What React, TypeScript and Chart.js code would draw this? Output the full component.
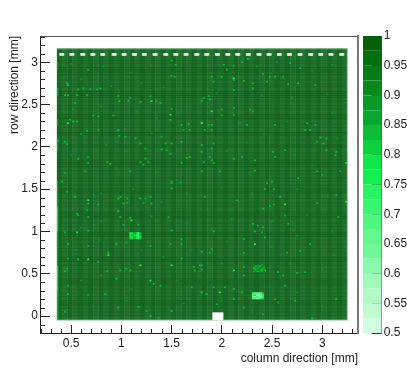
import React, { useEffect, useRef } from "react";
import { Chart, registerables } from "chart.js";

Chart.register(...registerables);

type P = [number, number];

const xMajorTicks = [0.5, 1, 1.5, 2, 2.5, 3];
const xMinorTicks = [0.2, 0.3, 0.4, 0.6, 0.7, 0.8, 0.9, 1.1, 1.2, 1.3, 1.4, 1.6, 1.7, 1.8, 1.9, 2.1, 2.2, 2.3, 2.4, 2.6, 2.7, 2.8, 2.9, 3.1, 3.2, 3.3];
const yMajorTicks = [0, 0.5, 1, 1.5, 2, 2.5, 3];
const yMinorTicks = [-0.2, -0.1, 0.1, 0.2, 0.3, 0.4, 0.6, 0.7, 0.8, 0.9, 1.1, 1.2, 1.3, 1.4, 1.6, 1.7, 1.8, 1.9, 2.1, 2.2, 2.3, 2.4, 2.6, 2.7, 2.8, 2.9, 3.1, 3.2, 3.3];
const colorbarTicks = [0.5, 0.55, 0.6, 0.65, 0.7, 0.75, 0.8, 0.85, 0.9, 0.95, 1];
const colorbarEdges = [0.5, 0.525, 0.55, 0.575, 0.6, 0.625, 0.65, 0.675, 0.7, 0.725, 0.75, 0.775, 0.8, 0.825, 0.85, 0.875, 0.9, 0.925, 0.95, 0.975, 1];
const paletteColors = ["#d0fedc", "#c0fcd0", "#b0fbc5", "#a0fab8", "#88f9aa", "#6ef898", "#62f78f", "#4ef67f", "#38f56f", "#28f462", "#14f04e", "#10e848", "#0cd13c", "#0cbd35", "#0aa830", "#089a26", "#068a1c", "#067c16", "#056f10", "#056008"];

// Efficiency of each half-module column band, left to right
const bandLevels = [0.976, 0.962, 0.976, 0.962, 0.977, 0.961, 0.976, 0.962, 0.976, 0.962, 0.977, 0.962, 0.976, 0.961, 0.976, 0.962, 0.976, 0.962, 0.977, 0.962, 0.976, 0.962, 0.976, 0.961, 0.976, 0.962, 0.977, 0.962, 0.976, 0.962, 0.976, 0.962, 0.976, 0.961, 0.977, 0.962, 0.976, 0.962, 0.976, 0.962, 0.977, 0.962, 0.976, 0.961, 0.976, 0.962, 0.976, 0.962, 0.977, 0.962, 0.976, 0.962, 0.976, 0.961, 0.976, 0.962];
const rowStripes = [2.938, 2.911, 2.884, 2.852, 2.654, 2.63, 2.607, 2.583, 2.378, 2.354, 2.331, 2.168, 2.141, 2.022, 1.999, 1.845, 1.818, 1.794, 1.765, 1.632, 1.505, 1.479, 1.454, 1.229, 1.205, 1.181, 1.158, 0.992, 0.968, 0.944, 0.695, 0.672, 0.648, 0.438, 0.415, 0.391, 0.367, 0.182, 0.154, 0.13];
const faintRowStripes = [3.02, 2.99, 2.79, 2.74, 2.71, 2.54, 2.49, 2.45, 2.27, 2.23, 2.08, 1.93, 1.89, 1.72, 1.68, 1.59, 1.55, 1.39, 1.34, 1.3, 1.1, 1.06, 0.9, 0.85, 0.8, 0.76, 0.6, 0.55, 0.5, 0.32, 0.27, 0.23, 0.09, 0.05, 0.01];
const deadDotColumns = [0.407, 0.507, 0.616, 0.716, 0.815, 0.928, 1.027, 1.13, 1.229, 1.336, 1.442, 1.542, 1.644, 1.751, 1.85, 1.956, 2.059, 2.159, 2.264, 2.371, 2.47, 2.573, 2.673, 2.779, 2.885, 2.985, 3.087, 3.194];

const midSpecks: P[] = [
  [1.5, 3.02], [1.54, 2.97], [0.67, 2.91], [1.5, 2.84], [1.53, 2.83], [0.46, 2.75], [0.47, 2.73], [0.57, 2.68], [0.62, 2.69], [0.69, 2.68], [0.76, 2.68], [0.79, 2.69], [0.44, 2.61], [0.47, 2.61], [0.56, 2.61], [0.54, 2.52], [0.66, 2.61], [0.97, 2.6], [0.98, 2.54], [1.09, 2.58], [1.07, 2.54], [1.19, 2.53], [1.29, 2.6], [1.35, 2.54], [1.39, 2.52], [1.5, 2.45], [1.49, 2.32], [0.77, 2.36], [0.72, 2.37], [0.49, 2.32], [0.52, 2.3], [0.56, 2.3], [0.92, 2.37], [1.6, 2.26], [1.67, 2.27], [1.62, 2.2], [1.68, 2.2], [0.66, 2.19], [0.77, 2.2], [0.97, 2.2], [0.98, 2.13], [1.04, 2.12], [1.14, 2.1], [1.4, 2.12], [0.44, 2.06], [0.46, 2.03], [0.37, 2.07], [1.19, 2.04], [1.44, 2.04], [1.5, 2.04], [1.4, 1.97], [1.45, 1.96], [1.49, 1.92], [1.24, 1.98], [1.6, 2.06], [1.8, 2.02], [0.67, 1.88], [0.67, 1.81], [0.57, 1.86], [0.86, 1.82], [0.89, 1.8], [1.19, 1.82], [1.24, 1.86], [1.27, 1.82], [1.22, 1.79], [1.6, 1.81], [1.65, 1.87], [1.68, 1.88], [0.44, 1.69], [0.64, 1.71], [1.09, 1.71], [1.5, 1.59], [1.59, 1.58], [0.41, 1.59], [1.8, 1.71],
  [1.82, 2.575], [1.87, 2.6], [1.8, 2.54], [1.88, 2.56], [2.02, 2.97], [2.12, 2.96], [2.05, 2.91], [2.2, 3.0], [2.26, 3.04], [2.68, 2.99], [2.78, 2.93], [1.9, 2.83], [2.0, 2.83], [2.22, 2.78], [2.12, 2.79], [2.41, 2.86], [2.48, 2.83], [2.53, 2.83], [2.61, 2.83], [2.31, 2.75], [1.92, 2.77], [2.12, 2.67], [2.31, 2.69], [2.45, 2.77], [2.66, 2.74], [2.76, 2.75], [2.0, 2.44], [2.0, 2.37], [2.28, 2.44], [2.31, 2.42], [2.12, 2.46], [2.12, 2.38], [2.93, 2.73], [1.8, 2.28], [1.87, 2.26], [1.9, 2.26], [1.83, 2.2], [1.9, 2.2], [2.25, 2.26], [2.53, 2.26], [2.85, 2.28], [2.93, 2.26], [2.83, 2.2], [2.88, 2.2], [2.98, 2.11], [3.04, 2.1], [2.95, 2.06], [3.01, 2.04], [1.92, 2.04], [1.9, 1.98], [1.8, 1.94], [1.88, 1.88], [1.9, 1.84], [1.82, 1.82], [1.92, 1.81], [2.12, 1.86], [2.2, 1.88], [2.33, 1.84], [2.51, 1.94], [2.53, 1.88], [2.63, 1.96], [3.04, 1.96], [3.14, 1.94], [3.13, 1.9], [1.98, 1.71], [2.33, 1.72], [2.95, 1.71], [3.0, 1.67], [3.18, 1.71], [2.45, 1.57], [2.5, 1.59], [2.76, 1.63],
  [0.46, 1.47], [0.54, 1.41], [0.67, 1.33], [0.77, 1.32], [1.5, 1.57], [1.5, 1.51], [0.97, 1.39], [0.99, 1.41], [1.06, 1.39], [1.06, 1.34], [1.02, 1.33], [1.19, 1.39], [1.24, 1.39], [1.29, 1.41], [1.22, 1.34], [1.3, 1.33], [0.56, 1.21], [0.57, 1.19], [0.66, 1.25], [0.67, 1.17], [0.97, 1.24], [0.99, 1.17], [1.09, 1.16], [1.17, 1.08], [1.02, 1.08], [1.47, 1.17], [1.5, 1.01], [0.44, 0.99], [0.67, 1.01], [0.47, 0.85], [0.67, 0.83], [0.87, 0.75], [0.95, 0.85], [1.05, 0.87], [1.29, 0.83], [1.49, 0.85], [1.6, 0.91], [1.6, 0.85], [0.57, 0.67], [0.47, 0.68], [0.77, 0.64], [0.46, 0.56], [0.44, 0.53], [0.86, 0.53], [0.99, 0.54], [1.05, 0.56], [1.09, 0.54], [1.72, 0.58], [1.73, 0.54], [1.78, 0.6], [1.8, 0.55], [1.6, 0.68], [1.32, 0.38], [1.39, 0.36], [0.95, 0.44], [0.47, 0.36], [0.47, 0.26], [0.67, 0.25], [0.84, 0.26], [1.8, 0.28], [1.7, 0.34], [1.5, 0.06], [1.25, 0.06], [1.17, 0.11], [0.97, 0.1], [1.29, 0.0], [1.37, -0.02], [0.44, 0.05],
  [1.83, 1.41], [2.15, 1.37], [2.43, 1.5], [2.52, 1.5], [2.58, 1.41], [2.41, 1.27], [2.48, 1.3], [2.52, 1.32], [2.95, 1.335], [3.14, 1.43], [2.63, 1.19], [3.16, 1.17], [2.31, 1.09], [2.36, 1.07], [2.41, 1.05], [2.33, 1.0], [2.4, 0.99], [1.92, 1.0], [2.66, 1.09], [2.22, 0.91], [2.43, 0.93], [2.88, 0.85], [1.8, 0.76], [1.9, 0.79], [1.88, 0.75], [2.22, 0.75], [2.65, 0.75], [2.78, 0.77], [1.8, 0.6], [2.22, 0.58], [2.33, 0.58], [2.36, 0.55], [2.4, 0.6], [2.56, 0.52], [2.61, 0.48], [2.75, 0.51], [2.83, 0.52], [2.22, 0.48], [1.8, 0.28], [1.85, 0.26], [1.92, 0.34], [2.03, 0.34], [2.12, 0.32], [2.2, 0.28], [2.12, 0.2], [2.53, 0.2], [2.56, 0.16], [2.63, 0.36], [3.14, 0.2], [2.73, 0.18], [1.95, 0.14], [2.41, 0.02], [2.22, 0.1], [2.9, -0.03],
];
const dimSpecks: P[] = [
  [0.5, 2.98], [0.82, 2.95], [1.1, 2.88], [1.3, 2.96], [0.6, 2.8], [0.9, 2.72], [1.2, 2.75], [1.42, 2.7], [0.52, 2.45], [0.8, 2.48], [1.15, 2.42], [1.35, 2.34], [0.6, 2.15], [0.85, 2.02], [1.05, 1.95], [1.3, 2.16], [0.5, 1.9], [0.95, 1.75], [1.35, 1.7],
  [2.35, 2.95], [2.55, 3.0], [2.9, 2.9], [3.1, 2.97], [1.95, 2.63], [2.4, 2.6], [2.7, 2.58], [3.05, 2.62], [2.18, 2.28], [2.42, 2.15], [2.65, 2.3], [3.1, 2.4], [2.05, 1.95], [2.25, 2.05], [2.72, 1.9], [2.9, 1.78], [3.15, 2.1],
  [0.55, 1.52], [0.8, 1.45], [1.12, 1.5], [1.4, 1.35], [1.65, 1.45], [0.6, 1.05], [0.8, 1.12], [1.3, 1.18], [1.65, 1.1], [0.55, 0.78], [0.78, 0.9], [1.2, 0.78], [1.42, 0.7], [1.7, 0.78], [0.6, 0.42], [0.8, 0.48], [1.1, 0.32], [1.55, 0.42], [0.72, 0.12], [1.05, 0.18], [1.62, 0.15],
  [2.0, 1.52], [2.3, 1.45], [2.75, 1.5], [3.05, 1.42], [2.1, 1.15], [2.5, 1.12], [2.85, 1.2], [3.1, 1.0], [2.05, 0.88], [2.5, 0.82], [2.75, 0.95], [3.12, 0.72], [2.0, 0.62], [2.68, 0.62], [3.0, 0.55], [2.0, 0.18], [2.3, 0.05], [2.75, 0.28], [3.0, 0.12],
];
const brightSpecks: P[] = [
  [1.3, 2.54], [1.49, 2.38], [0.67, 1.37], [1.8, 2.28], [2.12, 2.81], [1.9, 2.42], [0.47, 2.28], [2.63, 1.32], [1.1, 1.13], [0.67, 0.67], [1.19, 0.6], [1.29, 0.42], [0.56, 0.99], [3.24, 1.81], [0.87, 0.72], [1.5, 0.6], [2.33, 0.85], [2.12, 0.54], [1.98, 0.28], [2.43, 0.54], [3.24, 1.35],
];
const leftEdgeSegments: [number, number, number][] = [[-0.04, 0.3, 0.84], [0.3, 0.6, 0.8], [0.6, 1.0, 0.86], [1.0, 1.3, 0.8], [1.3, 1.6, 0.86], [1.95, 2.1, 0.86], [2.25, 2.33, 0.86], [2.6, 2.7, 0.86], [2.9, 3.0, 0.88]];

const clusterBrightX = [2.31, 2.33, 2.35, 2.37, 2.39, 2.41];
const clusterBrightY = [0.21, 0.23, 0.25, 0.27];
const clusterBrightValues = [
  [0.68, 0.72, 0.62, 0.7, 0.75, 0.8],
  [0.65, 0.6, 0.72, 0.66, 0.62, 0.74],
  [0.7, 0.78, 0.6, 0.58, 0.66, 0.72],
  [0.74, 0.66, 0.72, 0.68, 0.7, 0.82],
];
const clusterLowerX = [1.09, 1.11, 1.13, 1.15, 1.17, 1.19];
const clusterLowerY = [0.92, 0.94, 0.96, 0.98];
const clusterLowerValues = [
  [0.82, 0.78, 0.88, 0.8, 0.72, 0.85],
  [0.78, 0.74, 0.84, 0.76, 0.7, 0.8],
  [0.76, 0.84, 0.8, 0.74, 0.72, 0.86],
  [0.8, 0.76, 0.88, 0.78, 0.7, 0.84],
];
const clusterFaintX = [2.32, 2.34, 2.36, 2.38, 2.4, 2.42];
const clusterFaintY = [0.53, 0.55, 0.57, 0.59];
const clusterFaintValues = [
  [0.86, 0.92, 0.84, 0.9, 0.86, 0.92],
  [0.9, 0.84, 0.92, 0.88, 0.84, 0.9],
  [0.84, 0.9, 0.86, 0.92, 0.88, 0.86],
  [0.92, 0.86, 0.9, 0.84, 0.92, 0.88],
];

// Extents of the sensor and of the dead corner
const sensorX = [0.36, 3.25];
const sensorY = [-0.05, 3.165];
const notchX = 1.961;
const notchY = [-0.05, 0.044];
const dotY = [3.077, 3.108];

const speckHeight = 0.02;
const stripeHeight = 0.012;

function paletteColor(v: number) {
  for (let i = 0; i < paletteColors.length; i++) if (v <= colorbarEdges[i + 1]) return paletteColors[i];
  return paletteColors[paletteColors.length - 1];
}
const sensorCenter = (sensorX[0] + sensorX[1]) / 2;
const sensorWidth = sensorX[1] - sensorX[0];
const bandWidth = sensorWidth / bandLevels.length;

function clusterPoints(xs: number[], ys: number[], vals: number[][]) {
  const out: { x: number; y: [number, number]; v: number }[] = [];
  ys.forEach((y, r) => xs.forEach((x, c) => out.push({ x, y: [y - 0.012, y + 0.012], v: vals[r][c] })));
  return out;
}

const fixedBar = { grouped: false, inflateAmount: 0, borderWidth: 0, borderSkipped: false };

const minorTicksPlugin = {
  id: "minorTicks",
  afterDraw(chart: any) {
    const { ctx, scales, chartArea } = chart;
    ctx.save();
    ctx.strokeStyle = "#222";
    ctx.lineWidth = 1;
    xMinorTicks.forEach((v) => {
      const x = Math.round(scales.x.getPixelForValue(v)) + 0.5;
      ctx.beginPath();
      ctx.moveTo(x, chartArea.bottom);
      ctx.lineTo(x, chartArea.bottom - 4);
      ctx.stroke();
    });
    yMinorTicks.forEach((v) => {
      const y = Math.round(scales.y.getPixelForValue(v)) + 0.5;
      ctx.beginPath();
      ctx.moveTo(chartArea.left, y);
      ctx.lineTo(chartArea.left + 5, y);
      ctx.stroke();
    });
    ctx.restore();
  },
};

const tickFont = { family: "'Liberation Sans', Arial, sans-serif", size: 12 };

export default function App() {
  const mainRef = useRef<HTMLCanvasElement>(null);
  const barRef = useRef<HTMLCanvasElement>(null);

  useEffect(() => {
    const main = new Chart(mainRef.current!, {
      type: "bar",
      plugins: [minorTicksPlugin],
      data: {
        datasets: [
          {
            ...fixedBar, order: 10, barThickness: 5.6,
            data: bandLevels.map((v, i) => ({ x: sensorX[0] + bandWidth * (i + 0.5), y: sensorY, v })),
            backgroundColor: (c: any) => (c.raw && c.raw.v > 0.97 ? "#1a6a27" : "#24732e"),
          },
          {
            ...fixedBar, order: 9, barThickness: 290.5,
            data: faintRowStripes.map((y) => ({ x: sensorCenter, y: [y - stripeHeight / 2, y + stripeHeight / 2] })),
            backgroundColor: "rgba(10,90,22,0.35)",
          },
          {
            ...fixedBar, order: 8, barThickness: 290.5,
            data: rowStripes.map((y) => ({ x: sensorCenter, y: [y - stripeHeight / 2, y + stripeHeight / 2] })),
            backgroundColor: "rgba(10,90,22,0.6)",
          },
          {
            ...fixedBar, order: 7, barThickness: 290.5,
            data: [{ x: sensorCenter, y: [3.152, sensorY[1]] }, { x: sensorCenter, y: [sensorY[0], -0.04] }],
            backgroundColor: "rgba(190,225,195,0.55)",
          },
          {
            ...fixedBar, order: 7, barThickness: 1,
            data: [{ x: sensorX[1], y: sensorY }],
            backgroundColor: "rgba(190,225,195,0.7)",
          },
          {
            ...fixedBar, order: 6, barThickness: 1.3,
            data: leftEdgeSegments.map(([a, b, v]) => ({ x: sensorX[0] + 0.005, y: [a, b], v })),
            backgroundColor: (c: any) => (c.raw ? paletteColor(c.raw.v) : "#0a0"),
          },
          {
            ...fixedBar, order: 5.5, barThickness: 2,
            data: dimSpecks.map(([x, y]) => ({ x, y: [y - speckHeight / 2, y + speckHeight / 2] })),
            backgroundColor: paletteColor(0.89),
          },
          {
            ...fixedBar, order: 5, barThickness: 2,
            data: midSpecks.map(([x, y]) => ({ x, y: [y - speckHeight / 2, y + speckHeight / 2] })),
            backgroundColor: paletteColor(0.84),
          },
          {
            ...fixedBar, order: 4, barThickness: 2,
            data: brightSpecks.map(([x, y]) => ({ x, y: [y - speckHeight / 2, y + speckHeight / 2] })),
            backgroundColor: paletteColor(0.76),
          },
          {
            ...fixedBar, order: 3, barThickness: 2.1,
            data: [...clusterPoints(clusterBrightX, clusterBrightY, clusterBrightValues), ...clusterPoints(clusterLowerX, clusterLowerY, clusterLowerValues), ...clusterPoints(clusterFaintX, clusterFaintY, clusterFaintValues)],
            backgroundColor: (c: any) => (c.raw ? paletteColor(c.raw.v) : "#0a0"),
          },
          {
            ...fixedBar, order: 2, barThickness: 5,
            data: deadDotColumns.map((x) => ({ x, y: dotY })),
            backgroundColor: "#cfeed4",
          },
          {
            ...fixedBar, order: 1, barThickness: 3,
            data: deadDotColumns.map((x) => ({ x, y: [dotY[0] + 0.004, dotY[1] - 0.004] })),
            backgroundColor: "#ffffff",
          },
          {
            ...fixedBar, order: 0, barThickness: 11,
            data: [{ x: notchX, y: notchY }],
            backgroundColor: "#ffffff",
          },
        ] as any,
      },
      options: {
        responsive: false,
        animation: false,
        events: [],
        layout: { padding: { top: 36, right: 49, left: 0, bottom: 0 } },
        plugins: { legend: { display: false }, tooltip: { enabled: false } },
        scales: {
          x: {
            type: "linear", position: "bottom", min: 0.19, max: 3.356, offset: false,
            afterBuildTicks: (s: any) => { s.ticks = xMajorTicks.map((value) => ({ value })); },
            afterFit: (s: any) => { s.height = 38; },
            border: { color: "#222", width: 1 },
            grid: { drawOnChartArea: false, tickLength: -8, color: "#222", offset: false },
            ticks: { font: tickFont, color: "#222", padding: 11, maxRotation: 0, autoSkip: false, callback: (v: any) => String(v) },
            title: { display: true, text: "column direction [mm]", align: "end", color: "#222", font: tickFont, padding: { top: 0, bottom: 5 } },
          },
          y: {
            type: "linear", position: "left", min: -0.2, max: 3.31,
            afterBuildTicks: (s: any) => { s.ticks = yMajorTicks.map((value) => ({ value })); },
            afterFit: (s: any) => { s.width = 40; },
            border: { color: "#222", width: 1 },
            grid: { drawOnChartArea: false, tickLength: -10, color: "#222" },
            ticks: { font: tickFont, color: "#222", padding: 12, autoSkip: false, callback: (v: any) => String(v) },
            title: { display: true, text: "row direction [mm]", align: "end", color: "#222", font: tickFont, padding: { top: 7, bottom: 0 } },
          },
          xTop: {
            type: "linear", position: "top", min: 0.19, max: 3.356,
            border: { color: "#555", width: 1 }, grid: { drawOnChartArea: false, drawTicks: false }, ticks: { display: false },
          },
          yRight: {
            type: "linear", position: "right", min: -0.2, max: 3.31,
            border: { color: "#777", width: 2 }, grid: { drawOnChartArea: false, drawTicks: false }, ticks: { display: false },
          },
        },
      } as any,
    });

    const bar = new Chart(barRef.current!, {
      type: "bar",
      data: {
        labels: ["z"],
        datasets: paletteColors.map((color, i) => ({
          ...fixedBar,
          data: [[colorbarEdges[i], colorbarEdges[i + 1]]],
          backgroundColor: color,
          barPercentage: 1,
          categoryPercentage: 1,
        })) as any,
      },
      options: {
        responsive: false,
        animation: false,
        events: [],
        layout: { padding: { top: 36, left: 8, right: 0, bottom: 38 } },
        plugins: { legend: { display: false }, tooltip: { enabled: false } },
        scales: {
          x: { display: false },
          y: {
            type: "linear", position: "right", min: 0.5, max: 1,
            afterBuildTicks: (s: any) => { s.ticks = colorbarTicks.map((value) => ({ value })); },
            afterFit: (s: any) => { s.width = 25.3; },
            border: { color: "#555", width: 1 },
            grid: { drawOnChartArea: false, tickLength: -10, color: "#333" },
            ticks: { font: tickFont, color: "#222", padding: 12, autoSkip: false, callback: (v: any) => String(v) },
          },
        },
      } as any,
    });

    return () => {
      main.destroy();
      bar.destroy();
    };
  }, []);

  return (
    <div>
      <canvas ref={mainRef} width={407} height={371} style={{ position: "fixed", left: 0, top: 0 }} />
      <canvas ref={barRef} width={52} height={371} style={{ position: "fixed", left: 355, top: 0 }} />
    </div>
  );
}
